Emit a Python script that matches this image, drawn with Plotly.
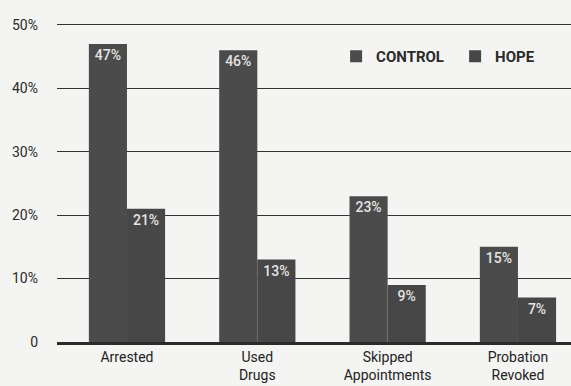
import plotly.graph_objects as go

categories = ["Arrested", "Used<br>Drugs", "Skipped<br>Appointments", "Probation<br>Revoked"]
control = [47, 46, 23, 15]
hope = [21, 13, 9, 7]
tick_vals = [0, 10, 20, 30, 40, 50]
tick_text = ["0", "10%", "20%", "30%", "40%", "50%"]

FONT = "Roboto, Liberation Sans, sans-serif"


def label_font(size, color, weight="normal"):
    return dict(family=FONT, size=size, color=color, weight=weight)


fig = go.Figure()
fig.add_trace(go.Bar(
    name="CONTROL", x=categories, y=control,
    marker=dict(color="#4b4b4b", line=dict(width=0)),
    text=[f"{v}%" for v in control], textposition="inside",
    insidetextanchor="end", textangle=0,
    textfont=label_font(14, "#e4e4e4", 500),
))
fig.add_trace(go.Bar(
    name="HOPE", x=categories, y=hope,
    marker=dict(color="#474747", line=dict(width=0)),
    text=[f"{v}%" for v in hope], textposition="inside",
    insidetextanchor="end", textangle=0,
    textfont=label_font(14, "#e4e4e4", 500),
))

fig.update_layout(
    width=571, height=386,
    margin=dict(l=57, r=0, t=23, b=44, autoexpand=False),
    paper_bgcolor="#f4f4f2", plot_bgcolor="#f4f4f2",
    barmode="group", bargap=0.415, bargroupgap=0,
    font=label_font(14, "#2a2a2a"),
    showlegend=True,
    legend=dict(
        orientation="h", x=0.543, y=0.895, xanchor="left", yanchor="middle",
        bgcolor="rgba(0,0,0,0)", traceorder="normal",
        font=label_font(15, "#2a2a2a", "bold"),
        itemwidth=30, entrywidth=74,
    ),
    uniformtext=dict(mode="show", minsize=12),
)
fig.update_xaxes(
    range=[-0.537, 3.407], showgrid=False, showline=True,
    linecolor="#2a2a2a", linewidth=2.5, ticks="",
    tickfont=label_font(14, "#222"),
)
fig.update_yaxes(
    range=[0, 50.3], tickvals=tick_vals, ticktext=tick_text,
    showgrid=True, gridcolor="#333333", gridwidth=1.3,
    zeroline=False, showline=False, ticks="",
    tickfont=label_font(14, "#2a2a2a"), ticklabelstandoff=18,
)

fig.write_html("out.html")
